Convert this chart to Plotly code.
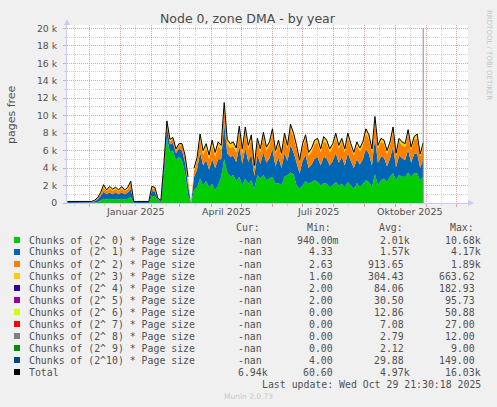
import pandas as pd
import plotly.graph_objects as go

# one sample every 3 days, the last one is the "last update" day
dates = pd.date_range("2024-11-09", periods=119, freq="3D")

# pages free per chunk order (None = no data)
chunk0 = [10, 10, 10, 10, 10, 10, 10, 10, 10, 50,
          100, 300, 500, 400, 500, 400, 500, 400, 500, 400,
          500, 700, 10, 10, 10, 10, 10, 10, 800, 800,
          200, 50, 3000, 7500, 5800, 6000, 4900, 5300, 4900, 3400,
          900, None, 1500, 1800, 2800, 2000, 2500, 1800, 2200, 1500,
          2000, 3000, 5000, 3500, 3000, 3200, 2500, 3000, 2000, 2800,
          2200, 2600, 1600, 3200, 2800, 3200, 2600, 2800, 3000, 2200,
          2300, 2000, 3000, 3200, 3500, 3300, 2000, 1600, 2000, 2500,
          2200, 2400, 2600, 2400, 2000, 2300, 2200, 1800, 2000, 2400,
          2000, 2200, 1800, 2400, 2000, 1600, 2300, 1800, 2200, 2600,
          2400, 1800, 3300, 2000, 2600, 2800, 2400, 3000, 3400, 2600,
          3200, 3000, 3000, 3500, 3000, 3400, 3400, 2600, 3000]
chunk1 = [100, 100, 100, 100, 100, 100, 100, 100, 100, 150,
          300, 500, 800, 600, 700, 600, 700, 600, 700, 600,
          700, 900, 100, 100, 100, 100, 100, 100, 600, 500,
          200, 150, 900, 1200, 900, 900, 800, 900, 1100, 1200,
          1200, None, 1500, 2000, 3000, 2300, 2400, 2000, 2800, 2500,
          3000, 2000, 4100, 2200, 2300, 2200, 2200, 3500, 2500, 3500,
          2500, 3000, 1500, 2300, 1700, 2600, 2000, 2300, 3200, 2000,
          2900, 2000, 2700, 1600, 3100, 2500, 2600, 1800, 2800, 3000,
          1800, 2000, 2500, 2800, 2300, 3000, 2900, 2500, 2800, 3300,
          2600, 3100, 2500, 3300, 2800, 2400, 2700, 2600, 2800, 3600,
          3200, 2500, 4100, 2600, 2700, 2400, 1800, 2100, 3000, 1500,
          2200, 2100, 1900, 2600, 1600, 2200, 2300, 1400, 2000]
chunk2 = [50, 50, 50, 50, 50, 50, 50, 50, 50, 80,
          150, 300, 500, 350, 500, 400, 400, 350, 500, 350,
          400, 600, 50, 50, 50, 50, 50, 50, 300, 300,
          100, 80, 400, 500, 400, 400, 350, 400, 600, 600,
          600, None, 700, 1000, 1600, 1200, 1400, 1200, 1600, 1300,
          1500, 1100, 1800, 1100, 1000, 1100, 1100, 1700, 1200, 1800,
          1400, 1700, 900, 1500, 1300, 1800, 1400, 1500, 1800, 1400,
          1600, 1300, 1800, 1400, 1900, 1700, 1600, 1200, 1600, 1800,
          1400, 1500, 1700, 1700, 1500, 1800, 1700, 1500, 1600, 1800,
          1600, 1700, 1500, 1800, 1600, 1400, 1600, 1500, 1600, 1800,
          1700, 1500, 1900, 1600, 1700, 1600, 1400, 1500, 1800, 1300,
          1600, 1500, 1500, 1800, 1400, 1600, 1700, 1300, 1500]
chunk3 = [20, 20, 20, 20, 20, 20, 20, 20, 20, 30,
          50, 100, 300, 150, 200, 200, 200, 150, 200, 150,
          200, 300, 20, 20, 20, 20, 20, 20, 200, 200,
          50, 30, 200, 200, 200, 200, 150, 200, 200, 300,
          300, None, 300, 400, 500, 500, 500, 500, 600, 500,
          500, 500, 600, 500, 500, 500, 500, 600, 500, 600,
          500, 500, 300, 400, 400, 500, 400, 400, 500, 400,
          400, 400, 500, 400, 500, 500, 400, 300, 400, 500,
          400, 400, 400, 500, 400, 500, 400, 400, 400, 500,
          400, 400, 400, 500, 400, 400, 400, 400, 400, 500,
          500, 400, 600, 400, 400, 400, 400, 400, 500, 300,
          400, 400, 400, 500, 400, 400, 500, 300, 400]

series = [chunk0, chunk1, chunk2, chunk3]
total = [None if a is None else a + b + c + d for a, b, c, d in zip(*series)]

legend_names = ["Chunks of (2^ 0) * Page size", "Chunks of (2^ 1) * Page size",
                "Chunks of (2^ 2) * Page size", "Chunks of (2^ 3) * Page size",
                "Chunks of (2^ 4) * Page size", "Chunks of (2^ 5) * Page size",
                "Chunks of (2^ 6) * Page size", "Chunks of (2^ 7) * Page size",
                "Chunks of (2^ 8) * Page size", "Chunks of (2^ 9) * Page size",
                "Chunks of (2^10) * Page size", "Total"]
legend_colors = ["#00CC00", "#0066B3", "#FF8000", "#FFCC00", "#330099", "#990099",
                 "#CCFF00", "#FF0000", "#808080", "#008F00", "#00487D", "#000000"]
cur_vals = ["-nan"] * 11 + ["6.94k"]
min_vals = ["940.00m", "4.33", "2.63", "1.60", "2.00", "2.00", "0.00", "0.00",
            "0.00", "0.00", "4.00", "60.60"]
avg_vals = ["2.01k", "1.57k", "913.65", "304.43", "84.06", "30.50", "12.86", "7.08",
            "2.79", "2.12", "29.88", "4.97k"]
max_vals = ["10.68k", "4.17k", "1.89k", "663.62", "182.93", "95.73", "50.88", "27.00",
            "12.00", "9.00", "149.00", "16.03k"]

y_tickvals = [0, 2000, 4000, 6000, 8000, 10000, 12000, 14000, 16000, 18000, 20000]
y_ticktext = ["0", "2 k", "4 k", "6 k", "8 k", "10 k", "12 k", "14 k", "16 k", "18 k", "20 k"]
month_labels = ["Januar 2025", "April 2025", "Juli 2025", "Oktober 2025"]
month_label_dates = ["2025-01-16", "2025-04-16", "2025-07-16", "2025-10-16"]

# pixel layout of the rrdtool picture
W, H = 497, 407
L, R, T, B = 67, 468, 25, 203
def px(x):
    return (x - L) / (R - L)
def py(y):
    return (B - y) / (B - T)

SANS = "DejaVu Sans"
MONO = "DejaVu Sans Mono"
TXT = "#505050"

fig = go.Figure()
for ys, c, n in zip(series, legend_colors, legend_names):
    fig.add_trace(go.Scatter(x=dates, y=ys, stackgroup="s", mode="lines",
                             line=dict(width=0, color=c), fillcolor=c, name=n,
                             showlegend=False))
fig.add_trace(go.Scatter(x=dates, y=total, mode="lines", line=dict(color="black", width=1),
                         name="Total", showlegend=False))

mid_months = pd.date_range("2024-11-01", periods=14, freq="MS") + pd.Timedelta(days=15)

fig.update_layout(
    width=W, height=H,
    margin=dict(l=L, r=W - R, t=T, b=H - B, pad=0),
    paper_bgcolor="#F0F0F0", plot_bgcolor="white",
    font=dict(family=SANS, size=10, color=TXT),
    xaxis=dict(type="date", range=["2024-11-08 14:00", "2025-12-12 14:00"],
               dtick="M1", tick0="2024-11-01", showticklabels=False,
               showgrid=True, gridcolor="#E8A0A0", griddash="1px,1px", gridwidth=1,
               ticks="outside", ticklen=3, tickcolor="#E8A0A0",
               minor=dict(tickmode="array", tickvals=list(mid_months), showgrid=True,
                          gridcolor="#D2D2D2", griddash="1px,1px", ticks="outside",
                          ticklen=2, tickcolor="#D2D2D2"),
               showline=True, linecolor="#C8CCF5", zeroline=False),
    yaxis=dict(range=[0, 20380], tickmode="array", tickvals=y_tickvals, ticktext=y_ticktext,
               tickfont=dict(size=9.3, color=TXT), ticklabelstandoff=4,
               showgrid=True, gridcolor="#E8A0A0", griddash="1px,1px",
               ticks="outside", ticklen=3, tickcolor="#E8A0A0",
               minor=dict(dtick=1000, tick0=0, showgrid=True, gridcolor="#D2D2D2",
                          griddash="1px,1px", ticks="outside", ticklen=2, tickcolor="#D2D2D2"),
               showline=True, linecolor="#C8CCF5", zeroline=False),
    showlegend=False,
)

def note(text, x, y, xanchor="center", font=None, **kw):
    return dict(text=text, x=x, y=y, xref=kw.pop("xref", "paper"), yref="paper",
                xanchor=xanchor, yanchor="middle", showarrow=False,
                font=font or dict(size=10, color=TXT), **kw)

ann = []
ann.append(note("Node 0, zone DMA - by year", px(248), py(19),
                font=dict(size=12.5, color="#4a4a4a")))
ann.append(note("pages free", px(11), py(115), textangle=-90,
                font=dict(size=11, color=TXT)))
ann.append(note("RRDTOOL / TOBI OETIKER", px(489), py(55), textangle=90,
                font=dict(size=7, color="#C4C4C4")))
for lab, d in zip(month_labels, month_label_dates):
    ann.append(note(lab, d, py(211.5), xref="x", font=dict(size=9.5, color=TXT)))

# munin legend table (monospace columns)
CW = 5.93
X0 = 26.7
def col(c):
    return X0 + CW * c
lfont = dict(family=MONO, size=9.85, color=TXT)
for lab, c in zip(["Cur:", "Min:", "Avg:", "Max:"], [35, 47, 59, 71]):
    ann.append(note(lab, px(col(c)), py(227.5), xanchor="left", font=lfont))
shapes = []
for k, name in enumerate(legend_names):
    yc = 240 + 12 * k
    shapes.append(dict(type="rect", xref="paper", yref="paper", x0=px(14), x1=px(20),
                       y0=py(yc + 3), y1=py(yc - 3), fillcolor=legend_colors[k], line=dict(width=0)))
    ann.append(note(name, px(X0), py(yc), xanchor="left", font=lfont))
    for v, endc in zip([cur_vals[k], min_vals[k], avg_vals[k], max_vals[k]], [41, 53, 65, 77]):
        e = endc if v[-1] in "km" else endc - 1
        ann.append(note(v, px(col(e)), py(yc), xanchor="right", font=lfont))
ann.append(note("Last update: Wed Oct 29 21:30:18 2025", px(col(77)), py(384),
                xanchor="right", font=lfont))
ann.append(note("Munin 2.0.73", px(248), py(396), font=dict(size=7.5, color="#C8C8C8")))

# axis arrows and the "now" rule
shapes.append(dict(type="path", xref="paper", yref="paper", fillcolor="#C8CCF5", line=dict(width=0),
                   path=f"M {px(64)},{py(25)} L {px(70)},{py(25)} L {px(67)},{py(19)} Z"))
shapes.append(dict(type="path", xref="paper", yref="paper", fillcolor="#C8CCF5", line=dict(width=0),
                   path=f"M {px(468)},{py(200)} L {px(468)},{py(206)} L {px(474)},{py(203)} Z"))
shapes.append(dict(type="line", xref="x", yref="paper", x0=dates[-1], x1=dates[-1], y0=0, y1=py(28),
                   line=dict(color="#8a8a8a", width=1)))

fig.update_layout(annotations=ann, shapes=shapes)
fig.write_html("out.html", config={"displayModeBar": False},
               post_script="document.body.style.margin='0';")
